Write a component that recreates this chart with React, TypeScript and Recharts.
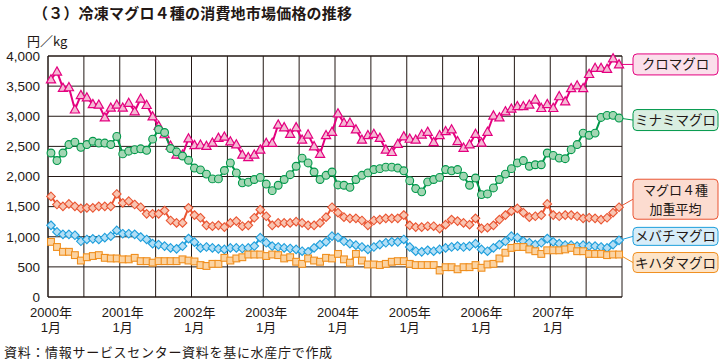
import React from 'react';
import { LineChart, Line, XAxis, YAxis, CartesianGrid, ReferenceLine } from 'recharts';

const YEARS = [2000, 2001, 2002, 2003, 2004, 2005, 2006, 2007];
const MONTH_LABELS: string[] = YEARS.flatMap((y) =>
  ['1', '2', '3', '4', '5', '6', '7', '8', '9', '10', '11', '12'].map((m) => `${y}年${m}月`)
);
const Y_TICKS = [0, 500, 1000, 1500, 2000, 2500, 3000, 3500, 4000];
const X_LABEL_TICKS = [0, 12, 24, 36, 48, 60, 72, 84];
const HALF_YEAR_LINES = [-0.5, 5.5, 11.5, 17.5, 23.5, 29.5, 35.5, 41.5, 47.5, 53.5, 59.5, 65.5, 71.5, 77.5, 83.5, 89.5, 95.5];

// クロマグロ
const kuro = [
  3610, 3740, 3470, 3480, 3110, 3350, 3310, 3200, 3190, 2980, 3140, 3190,
  3140, 3220, 3080, 3290, 3185, 2995, 2840, 2700, 2510, 2360, 2360, 2630,
  2520, 2525, 2505, 2560, 2640, 2660, 2580, 2530, 2360, 2320, 2360, 2445,
  2556, 2556, 2860, 2815, 2705, 2815, 2610, 2695, 2500, 2375, 2685, 2740,
  3045, 2890, 2890, 2780, 2610, 2685, 2705, 2640, 2445, 2405, 2540, 2665,
  2625, 2610, 2695, 2740, 2570, 2685, 2750, 2780, 2585, 2475, 2530, 2705,
  2560, 2740, 3010, 2980, 3080, 3125, 3165, 3165, 3190, 3275, 3135, 3200,
  3135, 3330, 3245, 3465, 3510, 3465, 3700, 3800, 3800, 3785, 3960, 3860,
];
// ミナミマグロ
const minami = [
  2390, 2265, 2390, 2530, 2570, 2485, 2530, 2585, 2555, 2555, 2530, 2665,
  2375, 2420, 2445, 2460, 2435, 2620, 2780, 2730, 2465, 2410, 2340, 2270,
  2140, 2110, 2040, 1960, 1960, 2100, 2225, 2060, 1895, 1905, 1950, 1985,
  1875, 1765, 1855, 1950, 2030, 2170, 2305, 2225, 2075, 1950, 2020, 2075,
  1860, 1855, 1820, 1950, 2020, 2060, 2115, 2130, 2155, 2155, 2140, 2095,
  1930, 1800, 1745, 1910, 1950, 1985, 2115, 2095, 2115, 2005, 1855, 1975,
  1700, 1710, 1810, 1950, 2040, 2130, 2225, 2265, 2170, 2195, 2195, 2390,
  2350, 2305, 2295, 2445, 2530, 2720, 2685, 2720, 2980, 3015, 3015, 2970,
];
// マグロ4種加重平均
const heikin = [
  1670, 1535, 1505, 1545, 1505, 1470, 1480, 1480, 1505, 1505, 1505, 1710,
  1560, 1590, 1535, 1490, 1380, 1380, 1380, 1435, 1270, 1230, 1230, 1480,
  1360, 1315, 1190, 1175, 1190, 1160, 1230, 1260, 1175, 1190, 1315, 1450,
  1340, 1190, 1230, 1230, 1230, 1250, 1230, 1190, 1190, 1230, 1325, 1490,
  1400, 1325, 1305, 1305, 1270, 1190, 1270, 1285, 1305, 1305, 1305, 1360,
  1190, 1160, 1160, 1175, 1175, 1135, 1200, 1285, 1260, 1230, 1200, 1305,
  1140, 1150, 1190, 1285, 1360, 1425, 1470, 1400, 1325, 1340, 1360, 1545,
  1360, 1340, 1360, 1360, 1340, 1305, 1315, 1305, 1285, 1315, 1400, 1490,
];
// メバチマグロ
const mebachi = [
  1190, 1080, 1040, 1040, 1025, 925, 955, 965, 955, 985, 1010, 1105,
  1050, 1050, 1040, 995, 955, 885, 870, 845, 815, 800, 845, 970,
  910, 815, 830, 815, 800, 790, 815, 815, 805, 815, 845, 985,
  900, 845, 830, 815, 805, 790, 760, 750, 815, 870, 915, 1010,
  990, 925, 885, 860, 830, 790, 830, 870, 900, 915, 915, 955,
  830, 760, 750, 775, 760, 790, 815, 830, 845, 830, 845, 885,
  790, 760, 815, 870, 925, 1010, 985, 925, 900, 870, 900, 970,
  915, 885, 860, 860, 845, 860, 845, 845, 830, 815, 870, 940,
];
// キハダマグロ
const kihada = [
  915, 830, 750, 750, 695, 605, 660, 680, 695, 650, 640, 640,
  625, 625, 650, 595, 595, 570, 595, 595, 595, 595, 625, 605,
  590, 530, 515, 550, 550, 650, 605, 640, 660, 705, 705, 705,
  680, 705, 695, 640, 660, 585, 550, 640, 605, 585, 650, 640,
  715, 625, 570, 715, 605, 540, 540, 530, 550, 585, 595, 595,
  550, 530, 530, 530, 530, 440, 495, 495, 460, 495, 495, 530,
  485, 540, 550, 640, 735, 815, 830, 830, 790, 760, 715, 775,
  775, 775, 790, 815, 760, 760, 715, 715, 715, 695, 705, 705,
];

const data = MONTH_LABELS.map((m, i) => ({
  i,
  m,
  kuro: kuro[i],
  minami: minami[i],
  heikin: heikin[i],
  mebachi: mebachi[i],
  kihada: kihada[i],
}));

const FONT = "'Noto Sans CJK JP', 'Noto Sans', sans-serif";
const TICK_FONT = "'Liberation Sans', 'Noto Sans CJK JP', sans-serif";
const INK = '#231815';
const LAST = MONTH_LABELS.length - 1;

type Shape = 'triangle' | 'circle' | 'diamond' | 'square';
interface Spec {
  key: string;
  shape: Shape;
  stroke: string;
  fill: string;
  boxFill: string;
  lines: string[];
  boxDy: number;
  boxH: number;
}

const SPECS: Spec[] = [
  { key: 'kuro', shape: 'triangle', stroke: '#e4007f', fill: '#f5b9d4', boxFill: '#fbdfeb', lines: ['クロマグロ'], boxDy: 0, boxH: 21 },
  { key: 'minami', shape: 'circle', stroke: '#00984a', fill: '#a3d6b3', boxFill: '#d9eee1', lines: ['ミナミマグロ'], boxDy: 2, boxH: 21 },
  { key: 'heikin', shape: 'diamond', stroke: '#ea5532', fill: '#f8c5b2', boxFill: '#fcdcd0', lines: ['マグロ４種', '加重平均'], boxDy: -8, boxH: 40 },
  { key: 'mebachi', shape: 'diamond', stroke: '#1e9fdc', fill: '#b3def5', boxFill: '#d7edf9', lines: ['メバチマグロ'], boxDy: -4, boxH: 18 },
  { key: 'kihada', shape: 'square', stroke: '#f08f1e', fill: '#fbd3a2', boxFill: '#fde4c8', lines: ['キハダマグロ'], boxDy: 8, boxH: 20 },
];

function Marker({ shape, cx, cy, stroke, fill }: { shape: Shape; cx: number; cy: number; stroke: string; fill: string }) {
  switch (shape) {
    case 'triangle':
      return <polygon points={`${cx},${cy - 4.8} ${cx + 4.6},${cy + 3.4} ${cx - 4.6},${cy + 3.4}`} fill={fill} stroke={stroke} strokeWidth={1.2} />;
    case 'circle':
      return <circle cx={cx} cy={cy} r={3.9} fill={fill} stroke={stroke} strokeWidth={1.1} />;
    case 'diamond':
      return <polygon points={`${cx},${cy - 4.3} ${cx + 4.3},${cy} ${cx},${cy + 4.3} ${cx - 4.3},${cy}`} fill={fill} stroke={stroke} strokeWidth={1.1} />;
    default:
      return <rect x={cx - 3.4} y={cy - 3.4} width={6.8} height={6.8} fill={fill} stroke={stroke} strokeWidth={1.1} />;
  }
}

const makeDot = (spec: Spec) => (props: any) => {
  const { cx, cy, index } = props;
  if (cx == null || cy == null) return <g key={`n-${spec.key}-${index}`} />;
  if (index !== LAST) {
    return (
      <g key={`d-${spec.key}-${index}`}>
        <Marker shape={spec.shape} cx={cx} cy={cy} stroke={spec.stroke} fill={spec.fill} />
      </g>
    );
  }
  const boxX = cx + 14;
  const boxW = 85;
  const boxCy = cy + spec.boxDy;
  const boxY = boxCy - spec.boxH / 2;
  const lineH = 19;
  const firstBaseline = boxCy - ((spec.lines.length - 1) * lineH) / 2 + 5;
  return (
    <g key={`d-${spec.key}-${index}`}>
      <line x1={cx} y1={cy} x2={boxX} y2={boxCy} stroke={spec.stroke} strokeWidth={1} />
      <Marker shape={spec.shape} cx={cx} cy={cy} stroke={spec.stroke} fill={spec.fill} />
      <rect x={boxX} y={boxY} width={boxW} height={spec.boxH} rx={4} ry={4} fill={spec.boxFill} stroke={spec.stroke} strokeWidth={1} />
      {spec.lines.map((t, k) => (
        <text key={k} x={boxX + boxW / 2} y={firstBaseline + k * lineH} textAnchor="middle" fontSize={spec.lines.length > 1 ? 13 : 13.5} fill={INK} fontFamily={FONT}>
          {t}
        </text>
      ))}
    </g>
  );
};

const XTick = (props: any) => {
  const { x, y, payload } = props;
  const idx = payload.value as number;
  const label = MONTH_LABELS[idx] || '';
  const year = label.split('年')[0];
  const month = label.split('年')[1] || '';
  return (
    <g>
      <text x={x} y={y + 19.5} textAnchor="middle" fontSize={13} fill={INK} fontFamily={TICK_FONT}>{`${year}年`}</text>
      <text x={x} y={y + 34.5} textAnchor="middle" fontSize={13} fill={INK} fontFamily={TICK_FONT}>{month}</text>
    </g>
  );
};

export default function App() {
  return (
    <div style={{ position: 'absolute', left: 0, top: 0, width: 723, height: 363, background: '#fff', fontFamily: FONT, color: INK }}>
      <div style={{ position: 'absolute', left: 33, top: 3, fontSize: 15, lineHeight: '20px', fontWeight: 'bold', whiteSpace: 'nowrap', letterSpacing: 0.2 }}>
        （３）冷凍マグロ４種の消費地市場価格の推移
      </div>
      <div style={{ position: 'absolute', left: 27, top: 34, fontSize: 13, lineHeight: '13px', whiteSpace: 'nowrap' }}>円／kg</div>
      <div style={{ position: 'absolute', left: 4, top: 343, fontSize: 13, lineHeight: '18px', whiteSpace: 'nowrap', letterSpacing: 0.7 }}>
        資料：情報サービスセンター資料を基に水産庁で作成
      </div>
      <div style={{ position: 'absolute', left: 0, top: 0 }}>
        <LineChart width={723} height={363} data={data} margin={{ top: 56, right: 101, left: 0, bottom: 26 }}>
          <CartesianGrid horizontal vertical={false} stroke={INK} strokeWidth={1} />
          <XAxis
            dataKey="i"
            type="number"
            domain={[-0.5, 95.5]}
            ticks={X_LABEL_TICKS}
            interval={0}
            height={40}
            tickLine={false}
            tickSize={0}
            tickMargin={0}
            axisLine={{ stroke: INK, strokeWidth: 1 }}
            tick={<XTick />}
          />
          <YAxis
            type="number"
            domain={[0, 4000]}
            ticks={Y_TICKS}
            interval={0}
            width={48}
            tickLine={false}
            tickSize={0}
            tickMargin={8}
            axisLine={{ stroke: INK, strokeWidth: 1 }}
            tickFormatter={(v: number) => v.toLocaleString('en-US')}
            tick={{ fontSize: 13.5, fill: INK, fontFamily: TICK_FONT }}
          />
          {HALF_YEAR_LINES.map((v) => (
            <ReferenceLine key={`v${v}`} x={v} stroke={INK} strokeWidth={1} ifOverflow="visible" />
          ))}
          <ReferenceLine y={4000} stroke={INK} strokeWidth={1} ifOverflow="visible" />
          {SPECS.map((s) => (
            <Line
              key={s.key}
              dataKey={s.key}
              type="linear"
              stroke={s.stroke}
              strokeWidth={2}
              dot={makeDot(s)}
              activeDot={false}
              isAnimationActive={false}
            />
          ))}
        </LineChart>
      </div>
    </div>
  );
}
